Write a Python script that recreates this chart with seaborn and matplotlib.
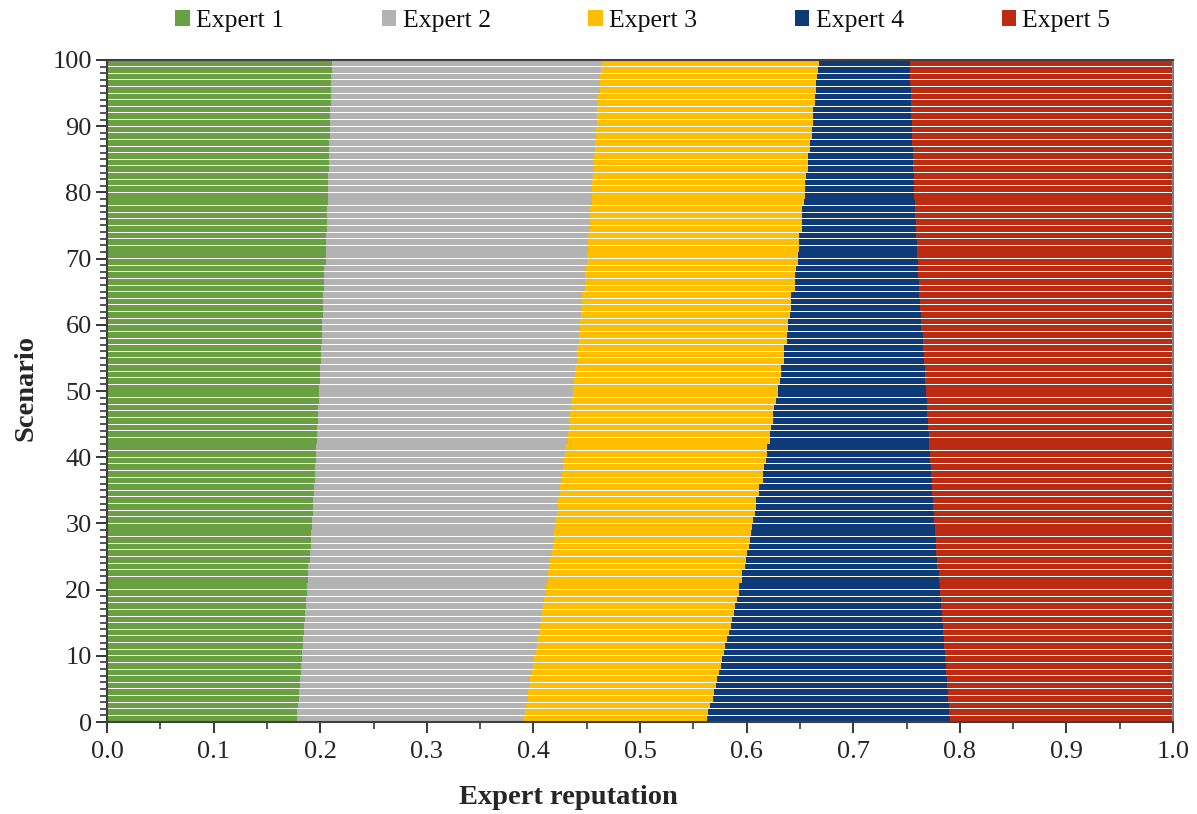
import numpy as np
import pandas as pd
import seaborn as sns
import matplotlib.pyplot as plt
from matplotlib.patches import Patch
from matplotlib.ticker import MultipleLocator, FormatStrFormatter

# Scenario numbers (one horizontal bar each)
scenarios = list(range(1, 101))

# Reputation share of each expert per scenario
expert_1 = [
    0.178, 0.178, 0.179, 0.180, 0.180, 0.181, 0.181, 0.182, 0.182, 0.183,
    0.183, 0.184, 0.184, 0.185, 0.185, 0.186, 0.186, 0.187, 0.187, 0.188,
    0.188, 0.189, 0.189, 0.189, 0.190, 0.190, 0.191, 0.191, 0.191, 0.192,
    0.192, 0.193, 0.193, 0.193, 0.194, 0.194, 0.195, 0.195, 0.195, 0.196,
    0.196, 0.196, 0.197, 0.197, 0.197, 0.198, 0.198, 0.198, 0.199, 0.199,
    0.199, 0.200, 0.200, 0.200, 0.201, 0.201, 0.201, 0.202, 0.202, 0.202,
    0.202, 0.203, 0.203, 0.203, 0.203, 0.204, 0.204, 0.204, 0.204, 0.205,
    0.205, 0.205, 0.205, 0.205, 0.206, 0.206, 0.206, 0.206, 0.207, 0.207,
    0.207, 0.207, 0.207, 0.208, 0.208, 0.208, 0.208, 0.208, 0.209, 0.209,
    0.209, 0.209, 0.209, 0.210, 0.210, 0.210, 0.210, 0.210, 0.211, 0.211,
]
expert_2 = [
    0.213, 0.214, 0.214, 0.215, 0.215, 0.216, 0.216, 0.217, 0.218, 0.218,
    0.219, 0.219, 0.220, 0.220, 0.221, 0.221, 0.222, 0.222, 0.223, 0.224,
    0.224, 0.225, 0.225, 0.226, 0.226, 0.227, 0.227, 0.228, 0.228, 0.228,
    0.229, 0.229, 0.230, 0.230, 0.231, 0.231, 0.232, 0.232, 0.233, 0.233,
    0.234, 0.234, 0.235, 0.235, 0.236, 0.236, 0.236, 0.237, 0.237, 0.238,
    0.238, 0.238, 0.239, 0.239, 0.240, 0.240, 0.240, 0.241, 0.241, 0.242,
    0.242, 0.242, 0.243, 0.243, 0.243, 0.244, 0.244, 0.244, 0.245, 0.245,
    0.245, 0.246, 0.246, 0.246, 0.247, 0.247, 0.247, 0.247, 0.248, 0.248,
    0.248, 0.248, 0.249, 0.249, 0.249, 0.249, 0.250, 0.250, 0.250, 0.250,
    0.251, 0.251, 0.251, 0.251, 0.251, 0.252, 0.252, 0.252, 0.252, 0.253,
]
expert_3 = [
    0.172, 0.172, 0.173, 0.173, 0.174, 0.174, 0.175, 0.175, 0.176, 0.176,
    0.177, 0.177, 0.178, 0.178, 0.179, 0.179, 0.180, 0.180, 0.181, 0.181,
    0.181, 0.182, 0.182, 0.183, 0.183, 0.183, 0.184, 0.184, 0.185, 0.185,
    0.185, 0.186, 0.186, 0.186, 0.187, 0.187, 0.188, 0.188, 0.188, 0.189,
    0.189, 0.189, 0.190, 0.190, 0.190, 0.191, 0.191, 0.191, 0.192, 0.192,
    0.192, 0.193, 0.193, 0.193, 0.194, 0.194, 0.194, 0.195, 0.195, 0.195,
    0.195, 0.196, 0.196, 0.196, 0.196, 0.197, 0.197, 0.197, 0.197, 0.198,
    0.198, 0.198, 0.198, 0.198, 0.199, 0.199, 0.199, 0.199, 0.199, 0.200,
    0.200, 0.200, 0.200, 0.201, 0.201, 0.201, 0.201, 0.201, 0.202, 0.202,
    0.202, 0.202, 0.202, 0.203, 0.203, 0.203, 0.203, 0.204, 0.204, 0.204,
]
expert_4 = [
    0.228, 0.226, 0.224, 0.221, 0.220, 0.217, 0.216, 0.213, 0.211, 0.209,
    0.207, 0.205, 0.203, 0.201, 0.199, 0.197, 0.195, 0.193, 0.191, 0.188,
    0.188, 0.184, 0.184, 0.181, 0.180, 0.178, 0.176, 0.175, 0.173, 0.172,
    0.170, 0.168, 0.166, 0.166, 0.162, 0.162, 0.159, 0.158, 0.157, 0.154,
    0.153, 0.152, 0.149, 0.149, 0.147, 0.145, 0.144, 0.143, 0.141, 0.139,
    0.139, 0.136, 0.135, 0.135, 0.131, 0.131, 0.130, 0.127, 0.127, 0.125,
    0.125, 0.123, 0.121, 0.121, 0.120, 0.117, 0.117, 0.116, 0.115, 0.113,
    0.112, 0.111, 0.111, 0.110, 0.107, 0.107, 0.106, 0.106, 0.104, 0.102,
    0.102, 0.102, 0.101, 0.098, 0.098, 0.098, 0.097, 0.096, 0.094, 0.094,
    0.093, 0.092, 0.092, 0.090, 0.090, 0.089, 0.088, 0.087, 0.086, 0.085,
]
expert_5 = [
    0.209, 0.210, 0.210, 0.211, 0.211, 0.212, 0.212, 0.213, 0.213, 0.214,
    0.214, 0.215, 0.215, 0.216, 0.216, 0.217, 0.217, 0.218, 0.218, 0.219,
    0.219, 0.220, 0.220, 0.221, 0.221, 0.222, 0.222, 0.222, 0.223, 0.223,
    0.224, 0.224, 0.225, 0.225, 0.226, 0.226, 0.226, 0.227, 0.227, 0.228,
    0.228, 0.229, 0.229, 0.229, 0.230, 0.230, 0.231, 0.231, 0.231, 0.232,
    0.232, 0.233, 0.233, 0.233, 0.234, 0.234, 0.235, 0.235, 0.235, 0.236,
    0.236, 0.236, 0.237, 0.237, 0.238, 0.238, 0.238, 0.239, 0.239, 0.239,
    0.240, 0.240, 0.240, 0.241, 0.241, 0.241, 0.242, 0.242, 0.242, 0.243,
    0.243, 0.243, 0.243, 0.244, 0.244, 0.244, 0.244, 0.245, 0.245, 0.245,
    0.245, 0.246, 0.246, 0.246, 0.246, 0.246, 0.247, 0.247, 0.247, 0.247,
]

expert_names = ["Expert 1", "Expert 2", "Expert 3", "Expert 4", "Expert 5"]
expert_colors = ["#68A043", "#B3B3B3", "#FFBF00", "#0E3B78", "#BB2B12"]

sns.set_theme(style="ticks")
plt.rcParams["font.family"] = ["Liberation Serif", "DejaVu Serif"]
plt.rcParams["axes.edgecolor"] = "#404040"
plt.rcParams["xtick.color"] = "#262626"
plt.rcParams["ytick.color"] = "#262626"
plt.rcParams["text.color"] = "#111111"

shares = np.array([expert_1, expert_2, expert_3, expert_4, expert_5])
cumulative = np.cumsum(shares, axis=0)
# each scenario occupies the unit interval [s-1, s] on the vertical axis
bar_pos = np.array(scenarios) - 0.5

fig = plt.figure(figsize=(11.97, 8.14), dpi=100)
ax = fig.add_axes([0.0894, 0.113, 0.8906, 0.8133])

# stacked bars: draw the outermost cumulative layer first
for i in reversed(range(len(expert_names))):
    df = pd.DataFrame({"reputation": cumulative[i], "scenario": bar_pos})
    sns.barplot(data=df, x="reputation", y="scenario", orient="h",
                native_scale=True, width=0.86, color=expert_colors[i],
                saturation=1, errorbar=None, linewidth=0, edgecolor="none",
                ax=ax)

ax.set_xlim(0, 1)
ax.set_ylim(0, 100)
ax.xaxis.set_major_locator(MultipleLocator(0.1))
ax.xaxis.set_minor_locator(MultipleLocator(0.05))
ax.xaxis.set_major_formatter(FormatStrFormatter("%.1f"))
ax.yaxis.set_major_locator(MultipleLocator(10))
ax.yaxis.set_minor_locator(MultipleLocator(1))
ax.tick_params(axis="both", which="major", direction="out", length=8,
               width=1.3, labelsize=19)
ax.tick_params(axis="x", which="major", pad=6)
ax.tick_params(axis="y", which="major", pad=3)
ax.tick_params(axis="both", which="minor", direction="out", length=5,
               width=1.1)

for side in ["left", "bottom", "top", "right"]:
    ax.spines[side].set_visible(True)
    ax.spines[side].set_linewidth(1.5)
ax.spines["right"].set_color("#7f7f7f")

ax.set_xlabel("Expert reputation", fontsize=20.5, fontweight="bold")
ax.xaxis.set_label_coords(0.4325, -0.095)
ax.set_ylabel("Scenario", fontsize=20.5, fontweight="bold")
ax.yaxis.set_label_coords(-0.064, 0.505)

handles = [Patch(facecolor=c, edgecolor="none", label=n)
           for n, c in zip(expert_names, expert_colors)]
fig.legend(handles=handles, loc="center", bbox_to_anchor=(0.537, 0.974),
           ncol=5, frameon=False, fontsize=18.5, handlelength=0.56,
           handleheight=0.56, handletextpad=0.25, columnspacing=3.8)

fig.savefig("out.png", dpi=100)
